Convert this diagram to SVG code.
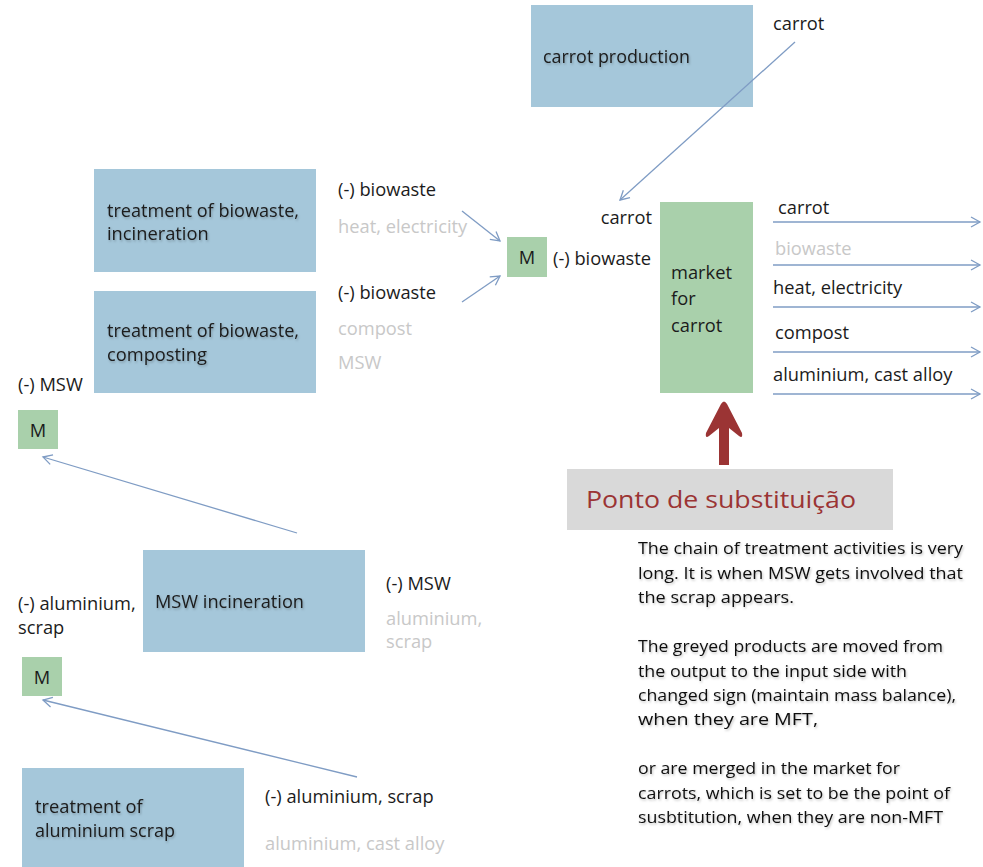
<svg xmlns="http://www.w3.org/2000/svg" width="983" height="867" viewBox="0 0 983 867">
<defs>
<style>
.proc{fill:#a5c7da;}
.mkt{fill:#a9d0ab;}
.t{font-family:"Open Sans","Noto Sans","Liberation Sans",sans-serif;font-size:18.3px;fill:#1b1b1b;}
.n{font-family:"Open Sans","Noto Sans","Liberation Sans",sans-serif;font-size:18.3px;fill:#1b1b1b;filter:url(#sh);}
.g{font-family:"Open Sans","Noto Sans","Liberation Sans",sans-serif;font-size:18.3px;fill:#c8c8c8;}
.p{font-family:"Open Sans","Liberation Sans",sans-serif;font-size:17px;fill:#111;filter:url(#sh);}
.c{stroke:#7f9cc4;stroke-width:1.3;fill:none;}
</style>
<filter id="sh" x="-5%" y="-30%" width="110%" height="160%">
<feDropShadow dx="1" dy="1.5" stdDeviation="1.2" flood-color="#000" flood-opacity="0.25"/>
</filter>
<marker id="ah" markerWidth="12" markerHeight="12" refX="10" refY="6" orient="auto" markerUnits="userSpaceOnUse">
<path d="M1,1 L10,6 L1,11" fill="none" stroke="#7f9cc4" stroke-width="1.3"/>
</marker>
</defs>
<rect width="983" height="867" fill="#fff"/>

<g id="carrot-production">
<rect class="proc" x="531" y="5" width="222" height="102"/>
<text class="n" x="543" y="63" textLength="147" lengthAdjust="spacingAndGlyphs">carrot production</text>
</g>
<g id="biowaste-incineration">
<rect class="proc" x="94" y="169" width="222" height="103"/>
<text class="n" x="107" y="217" textLength="192" lengthAdjust="spacingAndGlyphs">treatment of biowaste,</text>
<text class="n" x="107" y="240">incineration</text>
</g>
<g id="biowaste-composting">
<rect class="proc" x="94" y="291" width="222" height="102"/>
<text class="n" x="107" y="337" textLength="192" lengthAdjust="spacingAndGlyphs">treatment of biowaste,</text>
<text class="n" x="107" y="361">composting</text>
</g>
<g id="msw-incineration">
<rect class="proc" x="143" y="550" width="222" height="102"/>
<text class="n" x="155" y="608" textLength="149" lengthAdjust="spacingAndGlyphs">MSW incineration</text>
</g>
<g id="aluminium-scrap-treatment">
<rect class="proc" x="22" y="768" width="222" height="99"/>
<text class="n" x="35" y="813">treatment of</text>
<text class="n" x="35" y="837" textLength="140" lengthAdjust="spacingAndGlyphs">aluminium scrap</text>
</g>
<g id="M1">
<rect class="mkt" x="507" y="237" width="40" height="40"/>
<text class="t" x="527" y="264" text-anchor="middle" font-size="19">M</text>
</g>
<g id="M2">
<rect class="mkt" x="18" y="410" width="40" height="39"/>
<text class="t" x="38" y="437" text-anchor="middle" font-size="19">M</text>
</g>
<g id="M3">
<rect class="mkt" x="22" y="657" width="40" height="39"/>
<text class="t" x="42" y="684" text-anchor="middle" font-size="19">M</text>
</g>
<g id="market-for-carrot">
<rect class="mkt" x="660" y="202" width="93" height="191"/>
<text class="t" x="671" y="279" font-size="21">market</text>
<text class="t" x="671" y="305" font-size="21">for</text>
<text class="t" x="671" y="332" font-size="21">carrot</text>
</g>

<g id="labels">
<text class="t" x="773" y="30">carrot</text>
<text class="t" x="338" y="196">(-) biowaste</text>
<text class="g" x="338" y="233">heat, electricity</text>
<text class="t" x="338" y="299">(-) biowaste</text>
<text class="g" x="338" y="335">compost</text>
<text class="g" x="338" y="369">MSW</text>
<text class="t" x="652" y="224" text-anchor="end">carrot</text>
<text class="t" x="553" y="265">(-) biowaste</text>
<text class="t" x="778" y="214">carrot</text>
<text class="g" x="775" y="255">biowaste</text>
<text class="t" x="773" y="294">heat, electricity</text>
<text class="t" x="775" y="339">compost</text>
<text class="t" x="773" y="381">aluminium, cast alloy</text>
<text class="t" x="18" y="391">(-) MSW</text>
<text class="t" x="18" y="610">(-) aluminium,</text>
<text class="t" x="18" y="634">scrap</text>
<text class="t" x="386" y="590">(-) MSW</text>
<text class="g" x="386" y="625">aluminium,</text>
<text class="g" x="386" y="648">scrap</text>
<text class="t" x="265" y="803">(-) aluminium, scrap</text>
<text class="g" x="265" y="850">aluminium, cast alloy</text>
</g>

<g id="connectors">
<line class="c" x1="795" y1="42" x2="620" y2="200" marker-end="url(#ah)"/>
<line class="c" x1="462" y1="211" x2="500" y2="241" marker-end="url(#ah)"/>
<line class="c" x1="462" y1="302" x2="500" y2="276" marker-end="url(#ah)"/>
<line class="c" x1="297" y1="533" x2="43" y2="457" marker-end="url(#ah)"/>
<line class="c" x1="357" y1="777" x2="43" y2="700" marker-end="url(#ah)"/>
<line class="c" x1="773" y1="222" x2="980" y2="222" marker-end="url(#ah)"/>
<line class="c" x1="773" y1="265" x2="980" y2="265" marker-end="url(#ah)"/>
<line class="c" x1="773" y1="307" x2="980" y2="307" marker-end="url(#ah)"/>
<line class="c" x1="773" y1="352" x2="980" y2="352" marker-end="url(#ah)"/>
<line class="c" x1="773" y1="394" x2="980" y2="394" marker-end="url(#ah)"/>
</g>

<g id="substitution-point">
<path d="M719,465 L719,428 L709,436 Q705,439 706,433 L721,404 Q724,399 727,404 L742,433 Q743,439 739,436 L729,428 L729,465 Z" fill="#9b3434"/>
<rect x="567" y="469" width="326" height="61" fill="#d9d9d9"/>
<text x="586" y="508" font-family="'Open Sans','Liberation Sans',sans-serif" font-size="23" fill="#9b3434" textLength="270" lengthAdjust="spacingAndGlyphs">Ponto de substituição</text>
</g>

<g id="note">
<text class="p" x="638" y="554" textLength="325" lengthAdjust="spacingAndGlyphs">The chain of treatment activities is very</text>
<text class="p" x="638" y="579" textLength="325" lengthAdjust="spacingAndGlyphs">long. It is when MSW gets involved that</text>
<text class="p" x="638" y="603" textLength="156" lengthAdjust="spacingAndGlyphs">the scrap appears.</text>
<text class="p" x="638" y="652" textLength="305" lengthAdjust="spacingAndGlyphs">The greyed products are moved from</text>
<text class="p" x="638" y="677" textLength="269" lengthAdjust="spacingAndGlyphs">the output to the input side with</text>
<text class="p" x="638" y="701" textLength="318" lengthAdjust="spacingAndGlyphs">changed sign (maintain mass balance),</text>
<text class="p" x="638" y="725" textLength="180" lengthAdjust="spacingAndGlyphs">when they are MFT,</text>
<text class="p" x="638" y="774" textLength="262" lengthAdjust="spacingAndGlyphs">or are merged in the market for</text>
<text class="p" x="638" y="799" textLength="312" lengthAdjust="spacingAndGlyphs">carrots, which is set to be the point of</text>
<text class="p" x="638" y="823" textLength="305" lengthAdjust="spacingAndGlyphs">susbtitution, when they are non-MFT</text>
</g>
</svg>
